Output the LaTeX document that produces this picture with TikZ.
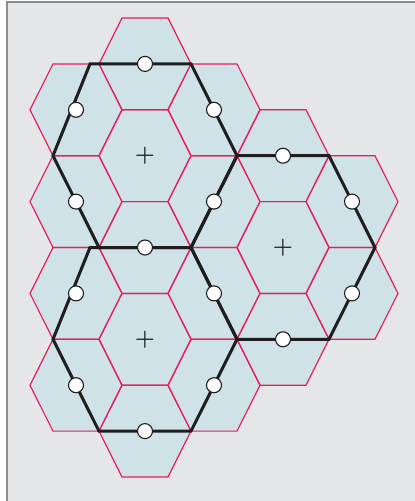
\documentclass[tikz,border=0pt]{standalone}
\begin{document}
\definecolor{bgc}{RGB}{229,230,232}
\definecolor{framec}{RGB}{140,140,140}
\definecolor{cellfill}{RGB}{207,226,231}
\definecolor{celledge}{RGB}{232,30,92}
\definecolor{thickc}{RGB}{30,30,30}
\begin{tikzpicture}[x=1pt,y=-1pt,
  cellbox/.style={fill=cellfill},
  celline/.style={draw=celledge,line width=1.2pt,line join=miter},
  bigedge/.style={draw=thickc,line width=3pt,line join=miter},
  port/.style={circle,draw=thickc,fill=white,line width=1.1pt,minimum size=15pt,inner sep=0pt},
  centermark/.style={inner sep=0pt,font=\fontsize{23}{23}\selectfont\bfseries,text=thickc}]
\useasboundingbox (0,0) rectangle (415,501);
\fill[bgc] (7,2) rectangle (415,501);
\draw[framec,line width=2pt] (6.5,501) -- (6.5,1.5) -- (415,1.5);
% cell centres: i index shifted by +1
\foreach \i/\j in {1/1,1/3,1/5,1/7,1/9,2/2,2/4,2/6,2/8,0/2,0/4,0/6,0/8,3/3,3/5,3/7,4/4,4/6}{
  \coordinate (h\i\j) at ({145+69*(\i-1)},{18+45.9*\j});
}
\foreach \n in {h11,h13,h15,h17,h19,h22,h24,h26,h28,h02,h04,h06,h08,h33,h35,h37,h44,h46}{
  \fill[cellbox] (\n) ++(-46,0) -- ++(23,-45.9) -- ++(46,0) -- ++(23,45.9) -- ++(-23,45.9) -- ++(-46,0) -- cycle;
}
\foreach \n in {h11,h13,h15,h17,h19,h22,h24,h26,h28,h02,h04,h06,h08,h33,h35,h37,h44,h46}{
  \path[celline] (\n) ++(-46,0) -- ++(23,-45.9) -- ++(46,0) -- ++(23,45.9) -- ++(-23,45.9) -- ++(-46,0) -- cycle;
}
% outline vertices
\coordinate (P1) at (191,63.9);
\coordinate (Q1) at (90,63.9);
\coordinate (P2) at (53,155.7);
\coordinate (P3) at (99,247.5);
\coordinate (P4) at (191,247.5);
\coordinate (P5) at (237,155.7);
\coordinate (P6) at (329,155.7);
\coordinate (P7) at (375,247.5);
\coordinate (P8) at (329,339.3);
\coordinate (P9) at (237,339.3);
\coordinate (Q2) at (90,247.5);
\coordinate (P10) at (53,339.3);
\coordinate (P11) at (99,431.1);
\coordinate (P12) at (191,431.1);
\path[bigedge] (P1) -- (Q1) -- (P2) -- (P3) -- (P4) -- (P5) -- cycle;
\path[bigedge] (P5) -- (P6) -- (P7) -- (P8) -- (P9) -- (P4) -- cycle;
\path[bigedge] (P4) -- (Q2) -- (P10) -- (P11) -- (P12) -- (P9) -- cycle;
% ports
\foreach \n in {h11,h02,h22,h33,h44,h04,h24,h15,h06,h26,h46,h37,h08,h28,h19}{
  \node[port] (p\n) at (\n) {};
}
% centre marks
\node[centermark] (m1) at (h13) {+};
\node[centermark] (m2) at (h35) {+};
\node[centermark] (m3) at (h17) {+};
\end{tikzpicture}
\end{document}
